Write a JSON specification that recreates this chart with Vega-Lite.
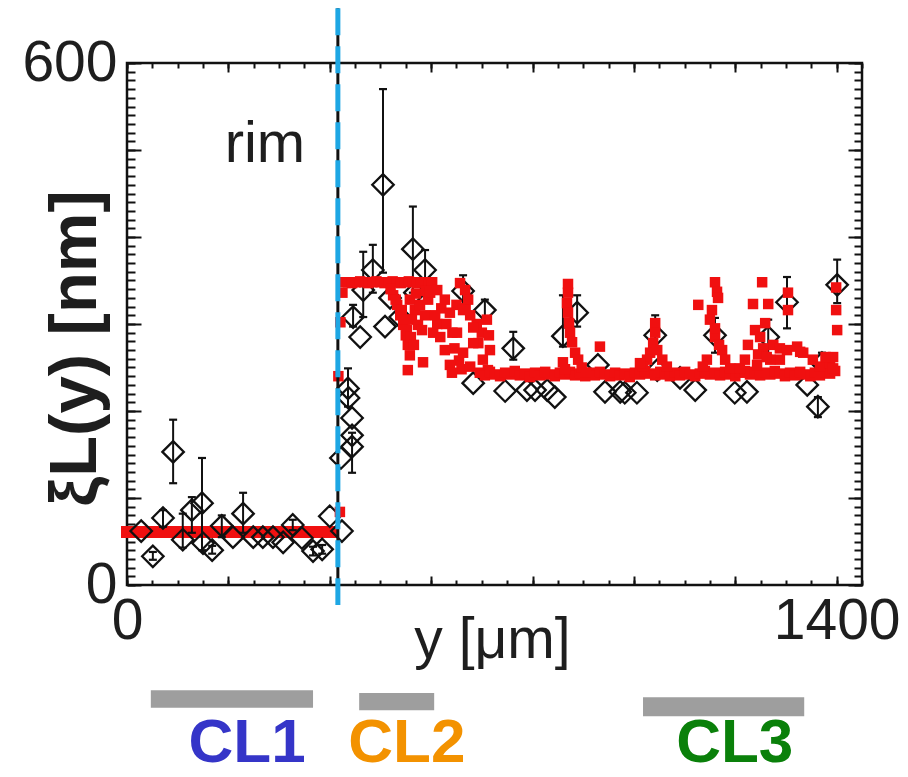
{
  "$schema": "https://vega.github.io/schema/vega-lite/v6.json",
  "width": 735,
  "height": 522,
  "autosize": {"type": "none"},
  "padding": {"left": 127, "top": 63, "right": 46, "bottom": 192},
  "background": "white",
  "config": {
    "view": {"stroke": "#111111", "strokeWidth": 2.5},
    "axis": {"grid": false, "domain": false, "tickColor": "#111111", "tickWidth": 2, "labelFont": "Liberation Sans", "labelFontSize": 57, "labelColor": "#1e1e1e", "titleFont": "Liberation Sans", "titleColor": "#1e1e1e", "labelFlush": false, "labelOverlap": false, "format": "d"}
  },
  "datasets": {
    "redline": [{"x": 0, "y": 61}, {"x": 404, "y": 61}],
    "exp": [
      {"x": 28, "y": 62}, {"x": 51, "y": 33, "lo": 29, "hi": 38}, {"x": 71, "y": 77, "lo": 67, "hi": 86}, {"x": 91, "y": 153, "lo": 117, "hi": 190},
      {"x": 110, "y": 52, "lo": 43, "hi": 82}, {"x": 128, "y": 86, "lo": 60, "hi": 101}, {"x": 148, "y": 94, "lo": 40, "hi": 146}, {"x": 150, "y": 48},
      {"x": 168, "y": 40, "lo": 36, "hi": 45}, {"x": 187, "y": 68, "lo": 55, "hi": 80}, {"x": 209, "y": 55}, {"x": 229, "y": 82, "lo": 60, "hi": 106},
      {"x": 249, "y": 55}, {"x": 268, "y": 55}, {"x": 288, "y": 55}, {"x": 308, "y": 49}, {"x": 327, "y": 69, "lo": 63, "hi": 75}, {"x": 345, "y": 54},
      {"x": 367, "y": 39, "lo": 34, "hi": 44}, {"x": 385, "y": 41, "lo": 36, "hi": 46}, {"x": 400, "y": 79}, {"x": 424, "y": 62},
      {"x": 436, "y": 226, "lo": 205, "hi": 249}, {"x": 437, "y": 215}, {"x": 444, "y": 192}, {"x": 444, "y": 172}, {"x": 444, "y": 159, "lo": 129, "hi": 175}, {"x": 422, "y": 146},
      {"x": 505, "y": 460, "lo": 359, "hi": 570}, {"x": 564, "y": 386, "lo": 336, "hi": 435}, {"x": 485, "y": 362, "lo": 336, "hi": 391}, {"x": 466, "y": 339, "lo": 308, "hi": 383},
      {"x": 446, "y": 308, "lo": 297, "hi": 322}, {"x": 460, "y": 285}, {"x": 509, "y": 297}, {"x": 519, "y": 330}, {"x": 539, "y": 308}, {"x": 568, "y": 336},
      {"x": 588, "y": 362, "lo": 340, "hi": 385}, {"x": 663, "y": 338, "lo": 322, "hi": 356}, {"x": 706, "y": 316, "lo": 305, "hi": 328}, {"x": 683, "y": 232},
      {"x": 762, "y": 272, "lo": 259, "hi": 291}, {"x": 746, "y": 223}, {"x": 789, "y": 224}, {"x": 805, "y": 224}, {"x": 829, "y": 224}, {"x": 844, "y": 216},
      {"x": 860, "y": 286, "lo": 274, "hi": 333}, {"x": 888, "y": 313, "lo": 297, "hi": 333}, {"x": 929, "y": 253}, {"x": 943, "y": 222}, {"x": 973, "y": 222},
      {"x": 982, "y": 221}, {"x": 1006, "y": 221}, {"x": 1042, "y": 287, "lo": 267, "hi": 310}, {"x": 1046, "y": 247}, {"x": 1091, "y": 238}, {"x": 1121, "y": 224},
      {"x": 1160, "y": 287, "lo": 267, "hi": 307}, {"x": 1199, "y": 221}, {"x": 1223, "y": 222}, {"x": 1265, "y": 285, "lo": 264, "hi": 305},
      {"x": 1302, "y": 325, "lo": 295, "hi": 354}, {"x": 1342, "y": 230}, {"x": 1363, "y": 205, "lo": 193, "hi": 216}, {"x": 1371, "y": 255, "lo": 245, "hi": 267},
      {"x": 1401, "y": 345, "lo": 324, "hi": 374}
    ],
    "sim": [
      {"x": 420, "y": 84}, {"x": 417, "y": 240}, {"x": 421, "y": 302}, {"x": 425, "y": 336},
      {"x": 428, "y": 348}, {"x": 436, "y": 348}, {"x": 444, "y": 347}, {"x": 452, "y": 348}, {"x": 460, "y": 349}, {"x": 468, "y": 348}, {"x": 476, "y": 347},
      {"x": 484, "y": 348}, {"x": 492, "y": 349}, {"x": 500, "y": 348}, {"x": 508, "y": 347}, {"x": 516, "y": 348}, {"x": 524, "y": 349}, {"x": 532, "y": 348},
      {"x": 540, "y": 347}, {"x": 548, "y": 348}, {"x": 556, "y": 349}, {"x": 564, "y": 348}, {"x": 572, "y": 347}, {"x": 580, "y": 348}, {"x": 588, "y": 348},
      {"x": 596, "y": 347}, {"x": 602, "y": 348},
      {"x": 525, "y": 333}, {"x": 533, "y": 322}, {"x": 539, "y": 310}, {"x": 545, "y": 299}, {"x": 550, "y": 287}, {"x": 554, "y": 276}, {"x": 558, "y": 264},
      {"x": 554, "y": 247}, {"x": 552, "y": 293}, {"x": 584, "y": 256},
      {"x": 558, "y": 328}, {"x": 568, "y": 316}, {"x": 578, "y": 322}, {"x": 588, "y": 310}, {"x": 562, "y": 305}, {"x": 574, "y": 299}, {"x": 594, "y": 328},
      {"x": 582, "y": 293}, {"x": 570, "y": 335}, {"x": 590, "y": 338},
      {"x": 520, "y": 340}, {"x": 530, "y": 328}, {"x": 542, "y": 316}, {"x": 548, "y": 305}, {"x": 560, "y": 285}, {"x": 566, "y": 276},
      {"x": 604, "y": 290}, {"x": 612, "y": 300}, {"x": 620, "y": 318}, {"x": 630, "y": 300}, {"x": 642, "y": 290}, {"x": 646, "y": 272},
      {"x": 655, "y": 258}, {"x": 660, "y": 248}, {"x": 650, "y": 322}, {"x": 668, "y": 318}, {"x": 690, "y": 300}, {"x": 700, "y": 290},
      {"x": 598, "y": 336}, {"x": 608, "y": 310}, {"x": 618, "y": 285}, {"x": 627, "y": 270}, {"x": 637, "y": 253}, {"x": 641, "y": 244},
      {"x": 612, "y": 339}, {"x": 627, "y": 328}, {"x": 637, "y": 313}, {"x": 651, "y": 290}, {"x": 663, "y": 267}, {"x": 677, "y": 251},
      {"x": 657, "y": 347}, {"x": 667, "y": 339}, {"x": 673, "y": 328}, {"x": 663, "y": 316}, {"x": 677, "y": 310}, {"x": 683, "y": 296}, {"x": 693, "y": 278},
      {"x": 702, "y": 259}, {"x": 712, "y": 247}, {"x": 683, "y": 278}, {"x": 710, "y": 305}, {"x": 714, "y": 287}, {"x": 716, "y": 270},
      {"x": 696, "y": 244}, {"x": 706, "y": 241}, {"x": 716, "y": 245}, {"x": 726, "y": 242}, {"x": 736, "y": 240}, {"x": 746, "y": 244}, {"x": 756, "y": 242},
      {"x": 765, "y": 246}, {"x": 775, "y": 241}, {"x": 785, "y": 243}, {"x": 795, "y": 239}, {"x": 805, "y": 244}, {"x": 815, "y": 241}, {"x": 825, "y": 245},
      {"x": 835, "y": 242}, {"x": 844, "y": 240}, {"x": 854, "y": 244}, {"x": 864, "y": 242}, {"x": 874, "y": 245}, {"x": 884, "y": 241}, {"x": 894, "y": 243},
      {"x": 904, "y": 240}, {"x": 913, "y": 244}, {"x": 923, "y": 241}, {"x": 933, "y": 245}, {"x": 943, "y": 242}, {"x": 953, "y": 240}, {"x": 963, "y": 244},
      {"x": 972, "y": 241}, {"x": 982, "y": 243}, {"x": 992, "y": 239}, {"x": 1002, "y": 244}, {"x": 1012, "y": 242}, {"x": 1022, "y": 246}, {"x": 1032, "y": 243},
      {"x": 1042, "y": 241}, {"x": 1052, "y": 245}, {"x": 1061, "y": 242}, {"x": 1071, "y": 240}, {"x": 1081, "y": 244}, {"x": 1091, "y": 241}, {"x": 1101, "y": 245},
      {"x": 1111, "y": 242}, {"x": 1121, "y": 240}, {"x": 1130, "y": 243}, {"x": 1140, "y": 246}, {"x": 1150, "y": 242}, {"x": 1160, "y": 244}, {"x": 1170, "y": 241},
      {"x": 1180, "y": 245}, {"x": 1190, "y": 242}, {"x": 1200, "y": 240}, {"x": 1209, "y": 244}, {"x": 1219, "y": 246}, {"x": 1229, "y": 242}, {"x": 1239, "y": 245},
      {"x": 1249, "y": 241}, {"x": 1259, "y": 244}, {"x": 1269, "y": 242}, {"x": 1278, "y": 246}, {"x": 1288, "y": 243}, {"x": 1298, "y": 240}, {"x": 1308, "y": 244},
      {"x": 1318, "y": 241}, {"x": 1328, "y": 245}, {"x": 1338, "y": 242}, {"x": 1348, "y": 240}, {"x": 1357, "y": 244}, {"x": 1367, "y": 241}, {"x": 1377, "y": 245},
      {"x": 1387, "y": 243}, {"x": 1397, "y": 246},
      {"x": 870, "y": 346}, {"x": 870, "y": 336}, {"x": 868, "y": 324}, {"x": 870, "y": 313}, {"x": 872, "y": 301}, {"x": 874, "y": 290}, {"x": 878, "y": 279},
      {"x": 884, "y": 267}, {"x": 890, "y": 259}, {"x": 897, "y": 250}, {"x": 905, "y": 244}, {"x": 860, "y": 256}, {"x": 864, "y": 248}, {"x": 933, "y": 274},
      {"x": 1042, "y": 301}, {"x": 1042, "y": 290}, {"x": 1038, "y": 278}, {"x": 1032, "y": 267}, {"x": 1046, "y": 270}, {"x": 1026, "y": 259}, {"x": 1056, "y": 259},
      {"x": 1065, "y": 251}, {"x": 1018, "y": 251}, {"x": 1012, "y": 255},
      {"x": 1160, "y": 348}, {"x": 1164, "y": 337}, {"x": 1166, "y": 330}, {"x": 1127, "y": 322}, {"x": 1154, "y": 316}, {"x": 1150, "y": 305}, {"x": 1160, "y": 285},
      {"x": 1174, "y": 270}, {"x": 1180, "y": 259}, {"x": 1144, "y": 259}, {"x": 1136, "y": 251}, {"x": 1190, "y": 249}, {"x": 1160, "y": 295}, {"x": 1168, "y": 276},
      {"x": 1253, "y": 348}, {"x": 1235, "y": 323}, {"x": 1265, "y": 323}, {"x": 1239, "y": 293}, {"x": 1259, "y": 301}, {"x": 1225, "y": 276}, {"x": 1249, "y": 285},
      {"x": 1255, "y": 272}, {"x": 1275, "y": 276}, {"x": 1288, "y": 272}, {"x": 1302, "y": 270}, {"x": 1322, "y": 274}, {"x": 1334, "y": 267}, {"x": 1288, "y": 259},
      {"x": 1304, "y": 336}, {"x": 1304, "y": 316}, {"x": 1243, "y": 253}, {"x": 1269, "y": 259}, {"x": 1219, "y": 259}, {"x": 1209, "y": 249}, {"x": 1245, "y": 265},
      {"x": 1262, "y": 262},
      {"x": 1353, "y": 259}, {"x": 1367, "y": 251}, {"x": 1387, "y": 255}, {"x": 1393, "y": 262}, {"x": 1399, "y": 342}, {"x": 1399, "y": 316}, {"x": 1401, "y": 293},
      {"x": 1393, "y": 249}, {"x": 1328, "y": 268}, {"x": 1378, "y": 262}
    ],
    "bars": [
      {"label": "CL1", "x": 47, "x2": 367, "top": -121, "bottom": -141},
      {"label": "CL2", "x": 458, "x2": 606, "top": -124, "bottom": -144},
      {"label": "CL3", "x": 1018, "x2": 1336, "top": -129, "bottom": -151}
    ],
    "labels": [
      {"label": "CL1", "x": 237},
      {"label": "CL2", "x": 552},
      {"label": "CL3", "x": 1199}
    ],
    "rim": [{"x": 416, "top": 663, "bottom": -23}],
    "notes": [{"text": "rim", "x": 272, "y": 486}]
  },
  "resolve": {"axis": {"x": "independent", "y": "independent"}},
  "layer": [
    {
      "data": {"name": "redline"},
      "mark": {"type": "line", "color": "#f01010", "strokeWidth": 12, "strokeCap": "square"},
      "encoding": {
        "x": {"field": "x", "type": "quantitative", "scale": {"domain": [0, 1450], "nice": false, "zero": false},
          "axis": {"orient": "bottom", "values": [0, 1400], "ticks": false, "labelPadding": 8, "title": "y [μm]", "titleFontSize": 57, "titleFontWeight": "normal", "titleX": 365, "titleY": 72, "titleAlign": "center", "titleBaseline": "alphabetic"}},
        "y": {"field": "y", "type": "quantitative", "scale": {"domain": [0, 600], "nice": false, "zero": false},
          "axis": {"orient": "left", "values": [0, 600], "ticks": false, "labelPadding": 10, "title": "ξL(y) [nm]", "titleFontSize": 67, "titleFontWeight": "bold", "titleAngle": 270, "titleX": -32, "titleY": 285, "titleAlign": "center", "titleBaseline": "alphabetic"}}
      }
    },
    {
      "data": {"name": "exp"},
      "mark": {"type": "point", "shape": "diamond", "filled": false, "stroke": "#111111", "strokeWidth": 2.3, "size": 460, "opacity": 1},
      "encoding": {
        "x": {"field": "x", "type": "quantitative", "scale": {"domain": [0, 1450], "nice": false, "zero": false},
          "axis": {"orient": "bottom", "values": [0, 200, 400, 600, 800, 1000, 1200, 1400], "labels": false, "tickSize": -9, "title": null}},
        "y": {"field": "y", "type": "quantitative", "scale": {"domain": [0, 600], "nice": false, "zero": false},
          "axis": {"orient": "left", "values": [0, 100, 200, 300, 400, 500, 600], "labels": false, "tickSize": -14, "title": null}}
      }
    },
    {
      "data": {"name": "exp"},
      "transform": [{"filter": "isValid(datum.lo)"}],
      "mark": {"type": "rule", "color": "#111111", "strokeWidth": 2},
      "encoding": {
        "x": {"field": "x", "type": "quantitative", "scale": {"domain": [0, 1450], "nice": false, "zero": false},
          "axis": {"orient": "bottom", "values": [0, 50, 100, 150, 200, 250, 300, 350, 400, 450, 500, 550, 600, 650, 700, 750, 800, 850, 900, 950, 1000, 1050, 1100, 1150, 1200, 1250, 1300, 1350, 1400, 1450], "labels": false, "tickSize": -5, "title": null}},
        "y": {"field": "lo", "type": "quantitative", "scale": {"domain": [0, 600], "nice": false, "zero": false},
          "axis": {"orient": "left", "values": [0, 10, 20, 30, 40, 50, 60, 70, 80, 90, 100, 110, 120, 130, 140, 150, 160, 170, 180, 190, 200, 210, 220, 230, 240, 250, 260, 270, 280, 290, 300, 310, 320, 330, 340, 350, 360, 370, 380, 390, 400, 410, 420, 430, 440, 450, 460, 470, 480, 490, 500, 510, 520, 530, 540, 550, 560, 570, 580, 590, 600], "labels": false, "tickSize": -8, "title": null}},
        "y2": {"field": "hi"}
      }
    },
    {
      "data": {"name": "exp"},
      "transform": [{"filter": "isValid(datum.lo)"}],
      "mark": {"type": "point", "shape": "M-1,0L1,0", "filled": false, "stroke": "#111111", "strokeWidth": 2.2, "size": 64, "opacity": 1},
      "encoding": {
        "x": {"field": "x", "type": "quantitative", "scale": {"domain": [0, 1450], "nice": false, "zero": false},
          "axis": {"orient": "top", "values": [0, 200, 400, 600, 800, 1000, 1200, 1400], "labels": false, "tickSize": -9, "title": null}},
        "y": {"field": "lo", "type": "quantitative", "scale": {"domain": [0, 600], "nice": false, "zero": false},
          "axis": {"orient": "right", "values": [0, 100, 200, 300, 400, 500, 600], "labels": false, "tickSize": -14, "title": null}}
      }
    },
    {
      "data": {"name": "exp"},
      "transform": [{"filter": "isValid(datum.hi)"}],
      "mark": {"type": "point", "shape": "M-1,0L1,0", "filled": false, "stroke": "#111111", "strokeWidth": 2.2, "size": 64, "opacity": 1},
      "encoding": {
        "x": {"field": "x", "type": "quantitative", "scale": {"domain": [0, 1450], "nice": false, "zero": false},
          "axis": {"orient": "top", "values": [0, 50, 100, 150, 200, 250, 300, 350, 400, 450, 500, 550, 600, 650, 700, 750, 800, 850, 900, 950, 1000, 1050, 1100, 1150, 1200, 1250, 1300, 1350, 1400, 1450], "labels": false, "tickSize": -5, "title": null}},
        "y": {"field": "hi", "type": "quantitative", "scale": {"domain": [0, 600], "nice": false, "zero": false},
          "axis": {"orient": "right", "values": [0, 10, 20, 30, 40, 50, 60, 70, 80, 90, 100, 110, 120, 130, 140, 150, 160, 170, 180, 190, 200, 210, 220, 230, 240, 250, 260, 270, 280, 290, 300, 310, 320, 330, 340, 350, 360, 370, 380, 390, 400, 410, 420, 430, 440, 450, 460, 470, 480, 490, 500, 510, 520, 530, 540, 550, 560, 570, 580, 590, 600], "labels": false, "tickSize": -8, "title": null}}
      }
    },
    {
      "data": {"name": "sim"},
      "mark": {"type": "point", "shape": "square", "filled": true, "color": "#f01010", "size": 110, "opacity": 1, "strokeWidth": 0},
      "encoding": {
        "x": {"field": "x", "type": "quantitative", "scale": {"domain": [0, 1450], "nice": false, "zero": false}, "axis": null},
        "y": {"field": "y", "type": "quantitative", "scale": {"domain": [0, 600], "nice": false, "zero": false}, "axis": null}
      }
    },
    {
      "data": {"name": "bars"},
      "mark": {"type": "rect", "color": "#9e9e9e"},
      "encoding": {
        "x": {"field": "x", "type": "quantitative", "scale": {"domain": [0, 1450], "nice": false, "zero": false}, "axis": null},
        "x2": {"field": "x2"},
        "y": {"field": "top", "type": "quantitative", "scale": {"domain": [0, 600], "nice": false, "zero": false}, "axis": null},
        "y2": {"field": "bottom"}
      }
    },
    {
      "data": {"name": "labels"},
      "mark": {"type": "text", "font": "Liberation Sans Narrow, Liberation Sans, sans-serif", "fontWeight": "bold", "fontSize": 62, "align": "center", "baseline": "alphabetic"},
      "encoding": {
        "x": {"field": "x", "type": "quantitative", "scale": {"domain": [0, 1450], "nice": false, "zero": false}, "axis": null},
        "y": {"datum": -204, "type": "quantitative", "scale": {"domain": [0, 600], "nice": false, "zero": false}, "axis": null},
        "text": {"field": "label"},
        "color": {"field": "label", "type": "nominal", "scale": {"domain": ["CL1", "CL2", "CL3"], "range": ["#3535c8", "#f39200", "#0a800a"]}, "legend": null}
      }
    },
    {
      "data": {"name": "notes"},
      "mark": {"type": "text", "font": "Liberation Sans", "fontSize": 58, "align": "center", "baseline": "alphabetic", "color": "#1e1e1e"},
      "encoding": {
        "x": {"field": "x", "type": "quantitative", "scale": {"domain": [0, 1450], "nice": false, "zero": false}, "axis": null},
        "y": {"field": "y", "type": "quantitative", "scale": {"domain": [0, 600], "nice": false, "zero": false}, "axis": null},
        "text": {"field": "text"}
      }
    },
    {
      "data": {"name": "rim"},
      "mark": {"type": "rule", "color": "#111111", "strokeWidth": 3},
      "encoding": {
        "x": {"field": "x", "type": "quantitative", "scale": {"domain": [0, 1450], "nice": false, "zero": false}, "axis": null},
        "y": {"field": "top", "type": "quantitative", "scale": {"domain": [0, 600], "nice": false, "zero": false}, "axis": null},
        "y2": {"field": "bottom"}
      }
    },
    {
      "data": {"name": "rim"},
      "mark": {"type": "rule", "color": "#1ea7e4", "strokeWidth": 5, "strokeDash": [27, 11]},
      "encoding": {
        "x": {"field": "x", "type": "quantitative", "scale": {"domain": [0, 1450], "nice": false, "zero": false}, "axis": null},
        "y": {"field": "top", "type": "quantitative", "scale": {"domain": [0, 600], "nice": false, "zero": false}, "axis": null},
        "y2": {"field": "bottom"}
      }
    }
  ]
}
